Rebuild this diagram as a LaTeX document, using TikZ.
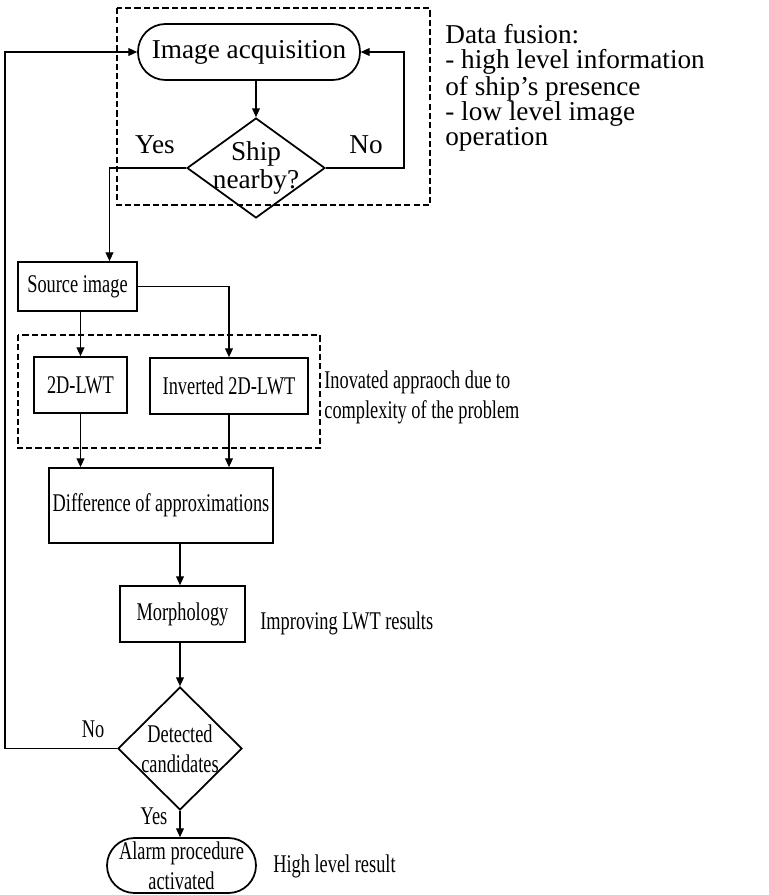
\documentclass[tikz,border=0pt]{standalone}
\usepackage{fontspec}
\setmainfont{Liberation Serif}
\newfontfamily\narrowfont{Liberation Serif}[FakeStretch=0.72]
\usepackage{tikz}
\usetikzlibrary{arrows.meta, calc, shapes.geometric}

\tikzset{
	txt/.style={font=\narrowfont\fontsize{14.5pt}{17pt}\selectfont},
	widetxt/.style={font=\fontsize{15.5pt}{16pt}\selectfont},
	procbox/.style={txt, draw, line width=1pt, rectangle, inner sep=0pt, align=center},
	terminal/.style={procbox, rounded corners=0.55cm},
	decision/.style={txt, draw, line width=1pt, diamond, inner sep=-6pt, align=center},
	flow/.style={line width=0.6pt, -{Triangle[length=5pt,width=4.5pt]}},
	group/.style={line width=1pt, dash pattern=on 3.5pt off 1.8pt},
}

\begin{document}
\begin{tikzpicture}[x=0.02cm, y=-0.02cm]

	\useasboundingbox (0,0) rectangle (768,895);

	% dashed groups
	\draw[group] (117,8) rectangle (430,205);
	\draw[group] (18,335) rectangle (320,448);

	\node[terminal, widetxt, minimum width=4.44cm, minimum height=1.12cm] (acq) at (249,52) {Image acquisition};
	\node[decision, widetxt, minimum width=2.76cm, minimum height=2cm] (ship) at (256,168) {Ship\\nearby?};
	\node[procbox, minimum width=2.38cm, minimum height=0.98cm] (src) at (77.5,286.5) {Source image};
	\node[procbox, minimum width=1.86cm, minimum height=1.12cm] (lwt) at (80.5,385) {2D-LWT};
	\node[procbox, minimum width=3.16cm, minimum height=1.12cm] (inv) at (229,386) {Inverted 2D-LWT};
	\node[procbox, minimum width=4.48cm, minimum height=1.5cm] (diff) at (161,505.5) {Difference of approximations};
	\node[procbox, minimum width=2.5cm, minimum height=1.12cm] (morph) at (182.5,614) {Morphology};
	\node[decision, minimum width=2.48cm, minimum height=2.46cm] (det) at (180,748.5) {Detected\\candidates};
	\node[terminal, minimum width=2.98cm, minimum height=1.1cm] (alarm) at (181.5,865.5)
		{\fontsize{14.5pt}{15pt}\selectfont Alarm procedure\\activated};

	\coordinate (noturn) at (404,110);
	\coordinate (loopback) at (5,400);

	% connectors
	\draw[flow] (ship.north |- acq.south) -- (ship.north);
	\draw[flow] (ship.east) -| (noturn) |- (acq.east);
	\draw[flow] (ship.west) -| ([xshift=0.64cm]src.north);
	\draw[flow] (src.south -| lwt.north) -- (lwt.north);
	\draw[flow] (src.east) -| (inv.north);
	\draw[flow] (lwt.south) -- (lwt.south |- diff.north);
	\draw[flow] (inv.south) -- (inv.south |- diff.north);
	\draw[flow] (det.north |- diff.south) -- (det.north |- morph.north);
	\draw[flow] (det.north |- morph.south) -- (det.north);
	\draw[flow] (det.south) -- (det.south |- alarm.north);
	\draw[flow] (det.west) -| (loopback) |- (acq.west);

	% branch labels
	\node[widetxt] (yes1) at (155,145) {Yes};
	\node[widetxt] (no1) at (366,145) {No};
	\node[txt] (no2) at (93,729) {No};
	\node[txt] (yes2) at (154,816) {Yes};

	% side notes
	\node[font=\fontsize{15.5pt}{14.2pt}\selectfont, align=left, anchor=west, inner sep=0pt] (fusion) at (445,88)
		{Data fusion:\\- high level information\\of ship’s presence\\- low level image\\operation};
	\node[txt, align=left, anchor=west, inner sep=0pt] (innov) at (324,397)
		{Inovated appraoch due to\\complexity of the problem};
	\node[txt, anchor=west, inner sep=0pt] (improve) at (260,623) {Improving LWT results};
	\node[txt, anchor=west, inner sep=0pt] (highlev) at (273,866) {High level result};

\end{tikzpicture}
\end{document}
